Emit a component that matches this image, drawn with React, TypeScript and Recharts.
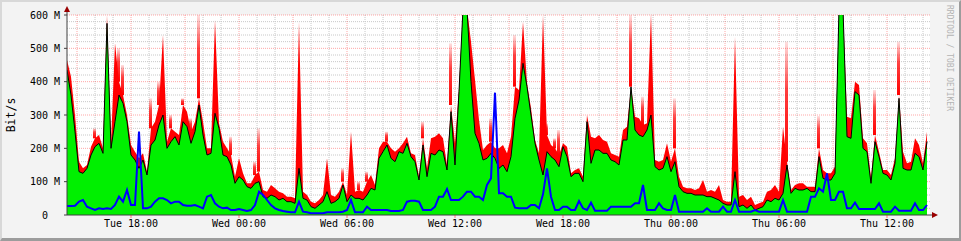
import React from 'react';
import { ComposedChart, Area, Bar, Line, XAxis, YAxis, CartesianGrid } from 'recharts';

// samples every 13m20s, starting Tue 14:27 (hours since Tue 00:00)
const T0 = 14.444;
const STEP = 4 / 18;

// average in (Mbit/s), the black-outlined green area
const GREEN = [
  435, 360, 250, 130, 125, 140, 180, 205, 215, 185,
  575, 200, 280, 360, 335, 280, 180, 165, 140, 165,
  120, 210, 225, 270, 300, 200, 220, 235, 210, 280,
  265, 215, 250, 330, 240, 180, 185, 305, 260, 180,
  175, 150, 95, 115, 105, 85, 80, 95, 100, 55,
  50, 60, 55, 45, 50, 40, 40, 35, 140, 50,
  45, 25, 20, 30, 40, 70, 35, 40, 50, 90,
  40, 60, 50, 50, 45, 60, 80, 75, 170, 190,
  210, 170, 160, 190, 185, 215, 175, 160, 105, 210,
  115, 185, 180, 195, 190, 135, 310, 150, 370, 620,
  620, 400, 245, 215, 165, 170, 185, 170, 140, 150,
  130, 175, 290, 345, 455, 385, 300, 215, 165, 120,
  190, 175, 165, 145, 205, 175, 115, 125, 125, 100,
  280, 155, 195, 195, 185, 185, 165, 160, 150, 225,
  225, 385, 255, 240, 235, 255,
  300, 145, 135, 140, 175, 130, 160, 85, 70, 65,
  65, 60, 60, 60, 55, 55, 50, 45, 35, 30,
  30, 130, 25, 30, 20, 30, 15, 20, 25, 45,
  40, 50, 45, 65, 150, 65,
  80, 75, 75, 80, 70, 70, 175, 110, 105, 105,
  125, 620, 620, 235, 230, 370, 360, 200, 190, 95,
  220, 175, 125, 120, 105, 155, 350, 140, 135, 135,
  185, 175, 135, 220,
];

// maximum in (Mbit/s), solid red
const RED = [
  465, 415, 300, 160, 140, 150, 205, 230, 240, 200,
  600, 215, 515, 400, 360, 300, 210, 190, 170, 185,
  130, 260, 280, 330, 540, 220, 260, 250, 240, 330,
  310, 250, 280, 350, 280, 200, 200, 585, 275, 220,
  200, 180, 115, 170, 125, 95, 95, 120, 130, 75,
  70, 90, 80, 70, 65, 55, 55, 50, 580, 70,
  60, 40, 35, 45, 60, 170, 60, 55, 70, 100,
  60, 250, 70, 75, 70, 100, 120, 90, 200, 220,
  220, 200, 190, 200, 215, 235, 185, 180, 115, 230,
  140, 230, 235, 245, 230, 150, 330, 215, 380, 620,
  620, 520, 405, 285, 195, 210, 220, 200, 200, 210,
  185, 235, 385, 375, 580, 395, 320, 225, 185, 600,
  240, 210, 200, 180, 215, 205, 125, 135, 140, 115,
  300, 235, 230, 240, 225, 220, 185, 180, 175, 255,
  265, 385, 295, 290, 270, 275,
  605, 165, 160, 165, 215, 160, 200, 115, 85, 80,
  80, 75, 80, 105, 70, 75, 70, 90, 45, 40,
  40, 535, 55, 60, 45, 55, 30, 35, 40, 70,
  75, 90, 70, 265, 160, 75,
  90, 95, 95, 85, 85, 85, 200, 135, 125, 125,
  145, 620, 620, 295, 290, 400, 390, 230, 215, 110,
  240, 190, 135, 135, 120, 170, 360, 190, 155, 160,
  230, 210, 155, 250,
];

// short bursts above the red, drawn fading: [sample, Mbit/s]
const FADE_PEAKS: [number, number][] = [
  [7, 260], [13, 500], [14, 450], [21, 350], [23, 400], [26, 300], [29, 350],
  [31, 290], [33, 600], [41, 235], [47, 160], [48, 260], [69, 140], [73, 100],
  [75, 130], [80, 250], [89, 280], [96, 515], [106, 290], [112, 540], [120, 275],
  [122, 230], [123, 255], [141, 600], [144, 355], [152, 350], [180, 520],
  [188, 297], [202, 375], [208, 520],
];

// out (Mbit/s), blue line
const BLUE = [
  27, 27, 28, 40, 45, 25, 20, 15, 20, 18,
  20, 18, 30, 55, 40, 75, 30, 30, 250, 20,
  20, 25, 40, 50, 50, 45, 35, 40, 40, 30,
  28, 28, 30, 25, 20, 55, 60, 35, 25, 20,
  22, 15, 15, 18, 15, 12, 15, 30, 70, 60,
  45, 30, 20, 15, 12, 10, 8, 8, 40, 10,
  8, 5, 5, 5, 5, 8, 8, 8, 8, 10,
  15, 45, 8, 8, 8, 25, 15, 15, 15, 15,
  15, 12, 12, 12, 15, 40, 43, 43, 40, 15,
  15, 15, 25, 55, 55, 78, 45, 45, 45, 55,
  70, 70, 55, 55, 45, 90, 110, 367, 65, 65,
  55, 55, 22, 20, 20, 20, 30, 30, 20, 62,
  140, 55, 15, 15, 25, 25, 15, 15, 42, 20,
  15, 37, 13, 13, 13, 13, 25, 25, 25, 25,
  25, 25, 35, 35, 90, 15,
  15, 15, 35, 20, 15, 15, 60, 10, 10, 10,
  10, 10, 10, 10, 20, 10, 10, 10, 25, 10,
  10, 45, 10, 10, 10, 10, 15, 10, 10, 10,
  10, 10, 10, 45, 10, 10,
  10, 10, 10, 10, 55, 55, 80, 70, 125, 45,
  45, 70, 70, 20, 20, 37, 18, 18, 18, 18,
  18, 35, 10, 10, 10, 25, 13, 13, 13, 13,
  35, 15, 15, 30,
];

const Y_TICKS = [0, 100, 200, 300, 400, 500, 600];
const X_TICKS = [18, 24, 30, 36, 42, 48, 54, 60];
const DAYS = ['Tue', 'Wed', 'Thu'];

const peaks = new Map(FADE_PEAKS);
const data = GREEN.map((g, i) => {
  const r = RED[i];
  const p = peaks.get(i);
  return {
    t: T0 + i * STEP,
    g,
    r,
    fade: p != null && p > r ? [r, p] : null,
    b: BLUE[i],
  };
});

const T_END = T0 + 215.75 * STEP;
const hours: number[] = [];
for (let h = 15; h <= 62; h++) hours.push(h);
const minorX = hours.filter((h) => h % 3 !== 0);
const majorX = hours.filter((h) => h % 3 === 0);
const minorY: number[] = [];
for (let v = 20; v < 600; v += 20) if (v % 100 !== 0) minorY.push(v);
const majorY = [100, 200, 300, 400, 500, 600];

const MONO = '"DejaVu Sans Mono", monospace';

function fmtTime(h: number) {
  const d = DAYS[Math.floor(h / 24)];
  const hh = String(h % 24).padStart(2, '0');
  return `${d} ${hh}:00`;
}

function YTick(props: any) {
  const { x, y, payload } = props;
  const v = payload.value;
  return (
    <g fontFamily={MONO} fontSize={10} fill="#000">
      <text x={x - 14} y={y} dy="0.35em" textAnchor="end">{v}</text>
      {v !== 0 && <text x={x - 2} y={y} dy="0.35em" textAnchor="end">M</text>}
    </g>
  );
}

function YLabel(props: any) {
  const { x, y, width, height } = props.viewBox;
  const ax = x + width;
  return (
    <g>
      <text
        x={x + 11}
        y={y + height / 2}
        transform={`rotate(-90 ${x + 11} ${y + height / 2})`}
        textAnchor="middle"
        dominantBaseline="central"
        fontFamily={MONO}
        fontSize={11.5}
        fill="#000"
      >
        Bit/s
      </text>
      <line x1={ax} y1={y} x2={ax} y2={y - 4} stroke="#404040" />
      <polygon points={`${ax - 3},${y - 3} ${ax},${y - 9} ${ax + 3},${y - 3}`} fill="#900" />
    </g>
  );
}

function XArrow(props: any) {
  const { x, y, width } = props.viewBox;
  const ex = x + width;
  return (
    <g>
      <line x1={ex} y1={y} x2={ex + 3} y2={y} stroke="#404040" />
      <polygon points={`${ex + 2},${y - 3} ${ex + 8},${y} ${ex + 2},${y + 3}`} fill="#900" />
    </g>
  );
}

export default function App() {
  return (
    <div
      style={{
        position: 'absolute',
        left: 0,
        top: 0,
        width: 961,
        height: 241,
        boxSizing: 'border-box',
        background: '#f3f3f3',
        borderTop: '2px solid #d8d8d8',
        borderLeft: '2px solid #d8d8d8',
        borderRight: '2px solid #9c9c9c',
        borderBottom: '3px solid #9c9c9c',
      }}
    >
      <div style={{ position: 'absolute', left: -2, top: -2 }}>
        <ComposedChart width={961} height={241} data={data} margin={{ top: 15, right: 31, bottom: 0, left: 0 }}>
          <defs>
            <linearGradient id="fadeRed" x1="0" y1="0" x2="0" y2="1">
              <stop offset="0%" stopColor="#ff0000" stopOpacity={0.12} />
              <stop offset="40%" stopColor="#ff0000" stopOpacity={0.75} />
              <stop offset="100%" stopColor="#ff0000" stopOpacity={1} />
            </linearGradient>
          </defs>
          <CartesianGrid
            horizontalValues={minorY}
            verticalValues={minorX}
            stroke="#c8c8c8"
            strokeDasharray="1 1"
            fill="#ffffff"
            fillOpacity={1}
          />
          <CartesianGrid
            horizontalValues={majorY}
            verticalValues={majorX}
            stroke="rgba(255,0,0,0.35)"
            strokeDasharray="1 1"
          />
          <XAxis
            dataKey="t"
            type="number"
            domain={[T0, T_END]}
            allowDataOverflow
            ticks={X_TICKS}
            tickFormatter={fmtTime}
            height={26}
            interval={0}
            tickSize={3}
            tickLine={{ stroke: 'rgba(255,0,0,0.5)' }}
            axisLine={{ stroke: '#404040' }}
            tick={{ fontFamily: MONO, fontSize: 10, fill: '#000' }}
            label={<XArrow />}
          />
          <YAxis
            type="number"
            domain={[0, 600]}
            allowDataOverflow
            ticks={Y_TICKS}
            width={67}
            interval={0}
            tickSize={3}
            tickLine={{ stroke: '#404040' }}
            axisLine={{ stroke: '#404040' }}
            tick={<YTick />}
            label={<YLabel />}
          />
          <Area dataKey="r" type="linear" stroke="none" fill="#ff0000" fillOpacity={1} isAnimationActive={false} />
          <Bar dataKey="fade" barSize={3} fill="url(#fadeRed)" isAnimationActive={false} />
          <Area dataKey="g" type="linear" stroke="#000000" strokeWidth={1} fill="#00f000" fillOpacity={1} isAnimationActive={false} />
          <Line dataKey="b" type="linear" stroke="#0000ff" strokeWidth={2} dot={false} isAnimationActive={false} />
        </ComposedChart>
      </div>
      <div
        style={{
          position: 'absolute',
          left: 943,
          top: 3,
          writingMode: 'vertical-rl',
          fontFamily: MONO,
          fontSize: 8,
          color: '#b4b4b4',
          whiteSpace: 'nowrap',
        }}
      >
        RRDTOOL / TOBI OETIKER
      </div>
    </div>
  );
}
